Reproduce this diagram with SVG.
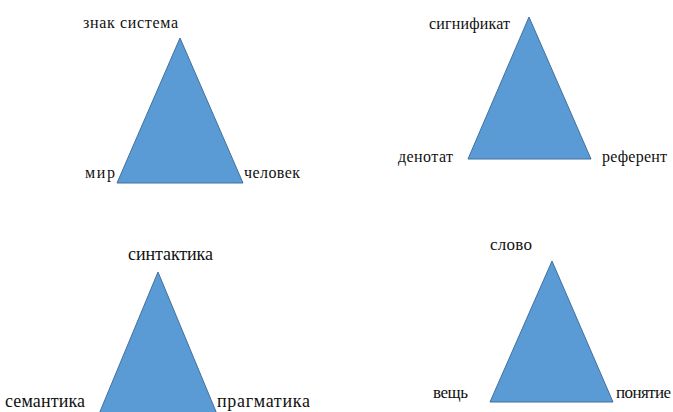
<svg xmlns="http://www.w3.org/2000/svg" width="673" height="412" viewBox="0 0 673 412">
<style>
.tri{fill:#5B9BD5;stroke:#41719C;stroke-width:1}
text{font-family:"Liberation Serif","DejaVu Serif",serif;font-size:16px;fill:#111}
#tri3 text{font-size:18px}
#tri4 text{font-size:17px}
</style>
<rect width="673" height="412" fill="#fff"/>
<g id="connectors"/>
<g id="tri1">
<polygon class="tri" points="180,38 117,183 243,183"/>
<text x="83" y="28" textLength="95">знак система</text>
<text x="85" y="178" textLength="30">мир</text>
<text x="244" y="178" textLength="56">человек</text>
</g>
<g id="tri2">
<polygon class="tri" points="529,17 468,159 591,159"/>
<text x="429" y="29" textLength="81">сигнификат</text>
<text x="398" y="162" textLength="55">денотат</text>
<text x="602" y="162" textLength="65">референт</text>
</g>
<g id="tri3">
<polygon class="tri" points="158,272 99,414 217,414"/>
<text x="128" y="260" textLength="85">синтактика</text>
<text x="5" y="407" textLength="80">семантика</text>
<text x="217" y="407" textLength="93">прагматика</text>
</g>
<g id="tri4">
<polygon class="tri" points="552,261 490,402 613,402"/>
<text x="490" y="250" textLength="42">слово</text>
<text x="433" y="398" textLength="35">вещь</text>
<text x="616" y="398" textLength="55">понятие</text>
</g>
</svg>
